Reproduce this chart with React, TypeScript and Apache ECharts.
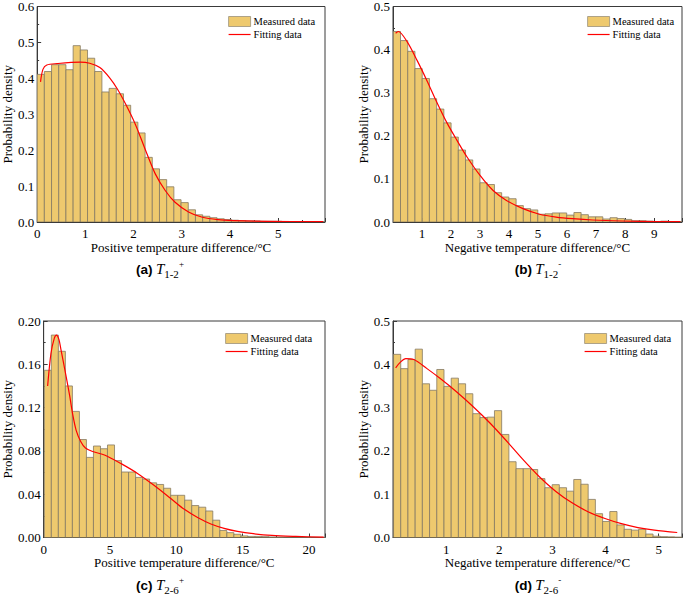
import React, { useEffect, useRef } from "react";
import * as echarts from "echarts";

// ---------- data ----------
const aRange = [0, 5.97];
const aBinStart = 0;
const aBinWidth = 0.14925;
const aBars = [
  0.411, 0.419, 0.438, 0.438, 0.424, 0.491, 0.479, 0.456, 0.419, 0.362,
  0.372, 0.357, 0.325, 0.278, 0.248, 0.18, 0.148, 0.118, 0.098, 0.062,
  0.054, 0.034, 0.02, 0.016, 0.012, 0.009, 0.007, 0.005, 0.004, 0.003,
  0.003, 0.002, 0.002, 0.002, 0.001, 0.001, 0.001, 0.001, 0.001, 0.001,
];
const aFit = [
  [0.07, 0.39], [0.12, 0.425], [0.2, 0.437], [0.41, 0.441], [0.89, 0.445],
  [1.09, 0.442], [1.3, 0.43], [1.5, 0.402], [1.67, 0.369], [1.84, 0.327],
  [2.04, 0.271], [2.25, 0.199], [2.45, 0.134], [2.66, 0.087], [2.86, 0.055],
  [3.14, 0.028], [3.41, 0.014], [3.75, 0.0065], [4.09, 0.004], [4.77, 0.002],
  [5.93, 0.001],
];

const bRange = [0, 9.96];
const bBinStart = 0.01;
const bBinWidth = 0.249;
const bBars = [
  0.442, 0.421, 0.396, 0.356, 0.333, 0.286, 0.262, 0.23, 0.197, 0.167,
  0.144, 0.123, 0.091, 0.087, 0.068, 0.058, 0.054, 0.038, 0.031, 0.028,
  0.018, 0.019, 0.021, 0.021, 0.016, 0.022, 0.017, 0.012, 0.012, 0.007,
  0.01, 0.008, 0.006, 0.003, 0.003, 0.002, 0.001, 0.002, 0.001, 0.001,
];
const bFit = [
  [0.09, 0.438], [0.18, 0.442], [0.49, 0.418], [0.83, 0.375], [1.17, 0.328],
  [1.51, 0.278], [1.86, 0.23], [2.2, 0.19], [2.54, 0.152], [3.0, 0.108],
  [3.45, 0.073], [3.91, 0.05], [4.48, 0.031], [5.05, 0.018], [5.62, 0.0115],
  [6.19, 0.0077], [6.88, 0.0046], [7.9, 0.0023], [9.05, 0.001], [9.9, 0.0008],
];

const cRange = [0, 21.2];
const cBinStart = 0.05;
const cBinWidth = 0.529;
const cBars = [
  0.1545, 0.187, 0.172, 0.14, 0.1165, 0.0905, 0.074, 0.0845, 0.082, 0.0855,
  0.071, 0.0605, 0.0605, 0.0555, 0.054, 0.0505, 0.049, 0.0455, 0.039, 0.039,
  0.0345, 0.0295, 0.028, 0.0245, 0.016, 0.0065, 0.0045, 0.003, 0.0015, 0.001,
  0.001, 0.0008, 0.0005, 0.0004, 0.0003, 0.0003, 0.0002, 0.0002, 0.0001, 0.0001,
];
const cFit = [
  [0.3, 0.14], [0.55, 0.17], [0.8, 0.184], [0.97, 0.187], [1.15, 0.183],
  [1.29, 0.1745], [1.66, 0.151], [1.96, 0.131], [2.2, 0.113], [2.45, 0.099],
  [2.78, 0.089], [3.15, 0.0827], [3.64, 0.0797], [4.63, 0.076], [5.87, 0.068],
  [7.1, 0.059], [8.34, 0.048], [9.58, 0.036], [10.6, 0.026], [11.6, 0.0185],
  [12.6, 0.0125], [13.6, 0.0085], [14.6, 0.0057], [15.8, 0.0035], [17.2, 0.0019],
  [19.0, 0.001], [21.1, 0.0003],
];

const dRange = [0, 5.44];
const dBinStart = 0.01;
const dBinWidth = 0.1357;
const dBars = [
  0.423, 0.39, 0.411, 0.435, 0.355, 0.34, 0.388, 0.349, 0.368, 0.355,
  0.332, 0.286, 0.277, 0.278, 0.293, 0.238, 0.175, 0.159, 0.159, 0.157,
  0.136, 0.115, 0.122, 0.115, 0.107, 0.134, 0.123, 0.088, 0.055, 0.037,
  0.06, 0.029, 0.019, 0.017, 0.019, 0.008, 0.003, 0.002, 0.0015, 0.001,
];
const dFit = [
  [0.05, 0.392], [0.14, 0.405], [0.24, 0.413], [0.39, 0.411], [0.64, 0.39],
  [0.89, 0.367], [1.2, 0.336], [1.51, 0.302], [1.82, 0.265], [2.13, 0.224],
  [2.44, 0.181], [2.75, 0.141], [3.06, 0.107], [3.37, 0.08], [3.68, 0.059],
  [3.99, 0.044], [4.3, 0.032], [4.61, 0.023], [4.92, 0.017], [5.35, 0.0115],
];

const xTitles = [
  "Positive temperature difference/°C",
  "Negative temperature difference/°C",
  "Positive temperature difference/°C",
  "Negative temperature difference/°C",
];
const yTitle = "Probability density";
const captions = [
  ["(a)", "1-2", "+"],
  ["(b)", "1-2", "-"],
  ["(c)", "2-6", "+"],
  ["(d)", "2-6", "-"],
];
const legendNames = ["Measured data", "Fitting data"];

// ---------- styles ----------
const SERIF = "Liberation Serif";
const BAR_FILL = "#EEC96E";
const BAR_EDGE = "#857a63";
const AXIS = "#3a3a3a";

export default function App() {
  const ref = useRef<HTMLDivElement>(null);

  useEffect(() => {
    document.body.style.margin = "0";
    if (!ref.current) return;
    const chart = echarts.init(ref.current, undefined, { renderer: "svg" });

    const panels = [
      { range: aRange, start: aBinStart, w: aBinWidth, bars: aBars, fit: aFit, ymax: 0.6, yint: 0.1, xint: 1, ydec: 1, hideZero: false,
        grid: { left: 33, top: 5, width: 292, height: 217 }, yGap: 22, legend: { left: 228, top: 16 }, cap: { x: 160, y: 269 } },
      { range: bRange, start: bBinStart, w: bBinWidth, bars: bBars, fit: bFit, ymax: 0.5, yint: 0.1, xint: 1, ydec: 1, hideZero: true,
        grid: { left: 393, top: 5, width: 290, height: 217 }, yGap: 23, legend: { left: 587, top: 16 }, cap: { x: 538, y: 269 } },
      { range: cRange, start: cBinStart, w: cBinWidth, bars: cBars, fit: cFit, ymax: 0.2, yint: 0.04, xint: 5, ydec: 2, hideZero: false,
        grid: { left: 39.5, top: 321, width: 285.5, height: 216.5 }, yGap: 27, legend: { left: 225, top: 333 }, cap: { x: 160, y: 585 } },
      { range: dRange, start: dBinStart, w: dBinWidth, bars: dBars, fit: dFit, ymax: 0.5, yint: 0.1, xint: 1, ydec: 1, hideZero: true,
        grid: { left: 393, top: 321, width: 291, height: 216.5 }, yGap: 23, legend: { left: 584, top: 333 }, cap: { x: 538, y: 585 } },
    ];

    const grids: any[] = [];
    const xAxes: any[] = [];
    const yAxes: any[] = [];
    const series: any[] = [];
    const legends: any[] = [];
    const graphics: any[] = [];

    panels.forEach((p, i) => {
      grids.push({ ...p.grid, show: true, borderColor: AXIS, borderWidth: 1, backgroundColor: "transparent", containLabel: false });
      const tickCommon = {
        axisLine: { show: true, onZero: false, lineStyle: { color: AXIS, width: 1 } },
        axisTick: { show: true, inside: true, length: 4, lineStyle: { color: AXIS } },
        minorTick: { show: true, splitNumber: 2, length: 2, lineStyle: { color: AXIS } },
        splitLine: { show: false },
        minorSplitLine: { show: false },
      };
      xAxes.push({
        type: "value",
        gridIndex: i,
        min: p.range[0],
        max: p.range[1],
        interval: p.xint,
        name: xTitles[i],
        nameLocation: "middle",
        nameGap: 18,
        nameTextStyle: { fontFamily: SERIF, fontSize: 13, color: "#000" },
        axisLabel: {
          fontFamily: SERIF,
          fontSize: 13,
          color: "#000",
          margin: 5,
          showMaxLabel: true,
          formatter: (v: number) => {
            const r = Math.round(v);
            if (Math.abs(v - r) > 1e-6) return "";
            if (p.hideZero && r === 0) return "";
            return String(r);
          },
        },
        ...tickCommon,
      });
      yAxes.push({
        type: "value",
        gridIndex: i,
        min: 0,
        max: p.ymax,
        interval: p.yint,
        name: yTitle,
        nameLocation: "middle",
        nameGap: p.yGap,
        nameTextStyle: { fontFamily: SERIF, fontSize: 13, color: "#000" },
        axisLabel: {
          fontFamily: SERIF,
          fontSize: 13,
          color: "#000",
          margin: 3,
          formatter: (v: number) => v.toFixed(p.ydec),
        },
        ...tickCommon,
      });

      const hist = p.bars.map((v, k) => [p.start + k * p.w, p.start + (k + 1) * p.w, v]);
      series.push({
        type: "custom",
        name: legendNames[0],
        xAxisIndex: i,
        yAxisIndex: i,
        data: hist,
        encode: { x: [0, 1], y: 2 },
        clip: true,
        z: 2,
        itemStyle: { color: BAR_FILL },
        renderItem: (params: any, api: any) => {
          const x0 = api.value(0);
          const x1 = api.value(1);
          const y = api.value(2);
          const p0 = api.coord([x0, y]);
          const p1 = api.coord([x1, 0]);
          return {
            type: "rect",
            shape: { x: p0[0], y: p0[1], width: p1[0] - p0[0], height: p1[1] - p0[1] },
            style: { fill: BAR_FILL, stroke: BAR_EDGE, lineWidth: 0.8 },
          };
        },
      });
      series.push({
        type: "line",
        name: legendNames[1],
        xAxisIndex: i,
        yAxisIndex: i,
        data: p.fit,
        showSymbol: false,
        symbol: "none",
        smooth: 0.3,
        z: 3,
        lineStyle: { color: "#FF0000", width: 1.2 },
        itemStyle: { color: "#FF0000" },
      });

      legends.push({
        left: p.legend.left,
        top: p.legend.top,
        orient: "vertical",
        itemWidth: 22,
        itemHeight: 10,
        itemGap: 2,
        padding: 0,
        selectedMode: false,
        textStyle: { fontFamily: SERIF, fontSize: 10.5, color: "#000", padding: [0, 0, 0, -2] },
        data: [
          { name: legendNames[0], icon: "rect", itemStyle: { color: BAR_FILL, borderColor: "#9a907a", borderWidth: 0.8 } },
          { name: legendNames[1], icon: "line", itemStyle: { color: "#FF0000", borderColor: "#FF0000", borderWidth: 1.2 } },
        ],
      });

      const c = captions[i];
      graphics.push({
        type: "text",
        x: p.cap.x,
        y: p.cap.y,
        style: {
          text: `{b|${c[0]}} {t|T}{s|${c[1]}}{p|${c[2]}}`,
          align: "center",
          verticalAlign: "middle",
          rich: {
            b: { fontFamily: "Liberation Sans", fontWeight: "bold", fontSize: 13.5, lineHeight: 20, color: "#000" },
            t: { fontFamily: SERIF, fontStyle: "italic", fontSize: 15, lineHeight: 20, color: "#000" },
            s: { fontFamily: SERIF, fontSize: 11, lineHeight: 12, verticalAlign: "bottom", color: "#000" },
            p: { fontFamily: SERIF, fontSize: 9, lineHeight: 15, verticalAlign: "top", color: "#000" },
          },
        },
      });
    });

    chart.setOption({
      animation: false,
      backgroundColor: "#fff",
      grid: grids,
      xAxis: xAxes,
      yAxis: yAxes,
      series,
      legend: legends,
      graphic: graphics,
    });

    return () => {
      chart.dispose();
    };
  }, []);

  return <div ref={ref} style={{ width: 685, height: 595 }} />;
}
